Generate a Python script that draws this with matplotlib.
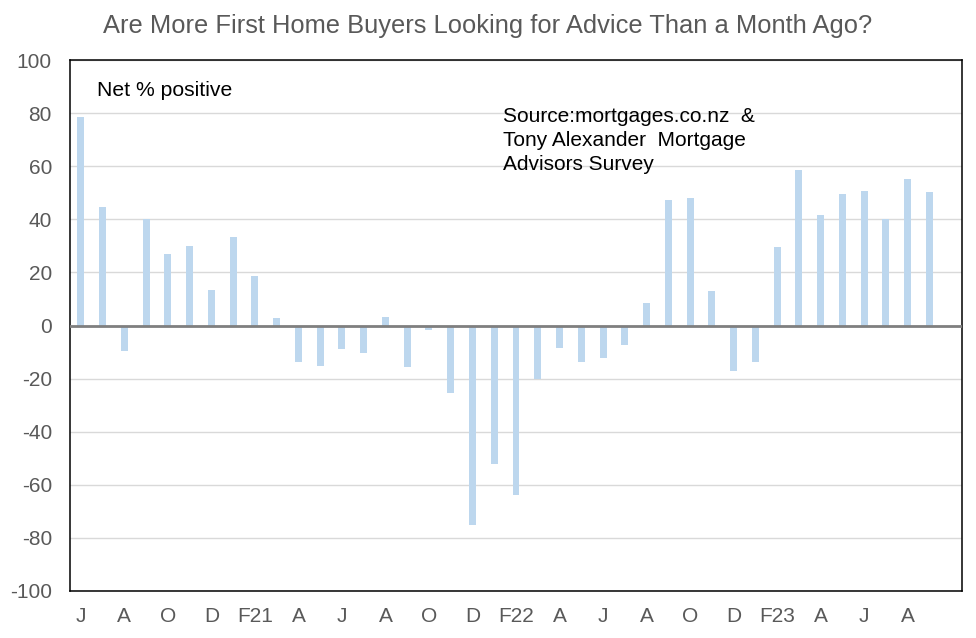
import matplotlib
matplotlib.use("Agg")
import matplotlib.pyplot as plt
import numpy as np

plt.rcParams['font.family'] = ['Liberation Sans', 'DejaVu Sans']

months = ["Jun20", "Jul20", "Aug20", "Sep20", "Oct20", "Nov20", "Dec20", "Jan21",
          "Feb21", "Mar21", "Apr21", "May21", "Jun21", "Jul21", "Aug21", "Sep21",
          "Oct21", "Nov21", "Dec21", "Jan22", "Feb22", "Mar22", "Apr22", "May22",
          "Jun22", "Jul22", "Aug22", "Sep22", "Oct22", "Nov22", "Dec22", "Jan23",
          "Feb23", "Mar23", "Apr23", "May23", "Jun23", "Jul23", "Aug23", "Sep23"]
values = [78.5, 44.8, -9.7, 40.0, 27.1, 30.1, 13.3, 33.5,
          18.5, 2.9, -13.6, -15.1, -9.0, -10.2, 3.1, -15.8,
          -1.8, -25.6, -75.2, -52.3, -63.8, -20.1, -8.3, -13.9,
          -12.1, -7.4, 8.3, 47.3, 48.2, 12.9, -17.3, -13.6,
          29.4, 58.6, 41.8, 49.4, 50.7, 40.0, 55.0, 50.3]
tick_labels = ["J", "A", "O", "D", "F21", "A", "J", "A", "O", "D",
               "F22", "A", "J", "A", "O", "D", "F23", "A", "J", "A"]
y_ticks = [-100, -80, -60, -40, -20, 0, 20, 40, 60, 80, 100]

fig = plt.figure(figsize=(9.76, 6.38), dpi=100)
ax = fig.add_axes([70/976, 1-591/638, 892/976, 531/638])

x = np.arange(len(values))
ax.bar(x, values, width=0.32, color="#BDD7EE", zorder=3)
ax.set_xlim(-0.5, len(values) + 0.5)
ax.set_ylim(-100, 100)
ax.set_yticks(y_ticks)
ax.set_yticklabels([str(v) for v in y_ticks])
ax.set_xticks(x[::2])
ax.set_xticklabels(tick_labels)
ax.tick_params(axis='both', length=0, labelsize=15, colors="#595959")
ax.tick_params(axis='x', pad=11.5)
ax.tick_params(axis='y', pad=13)
ax.grid(axis='y', color="#D9D9D9", linewidth=1, zorder=0)
ax.axhline(0, color="#7F7F7F", linewidth=2, zorder=4)
for s in ax.spines.values():
    s.set_color("black")
    s.set_linewidth(1.1)

fig.text(0.5, 1-26/638, "Are More First Home Buyers Looking for Advice Than a Month Ago?",
         ha='center', va='center', fontsize=18.4, color="#595959")
ax.annotate("Net % positive", xy=(97/976, 1-91/638), xycoords='figure fraction',
            ha='left', va='center', fontsize=15.2, color="black")
ax.annotate("Source:mortgages.co.nz  &\nTony Alexander  Mortgage\nAdvisors Survey",
            xy=(503/976, 1-107/638), xycoords='figure fraction',
            ha='left', va='top', fontsize=15, color="black", linespacing=1.35)

fig.savefig("out.png", dpi=100)
